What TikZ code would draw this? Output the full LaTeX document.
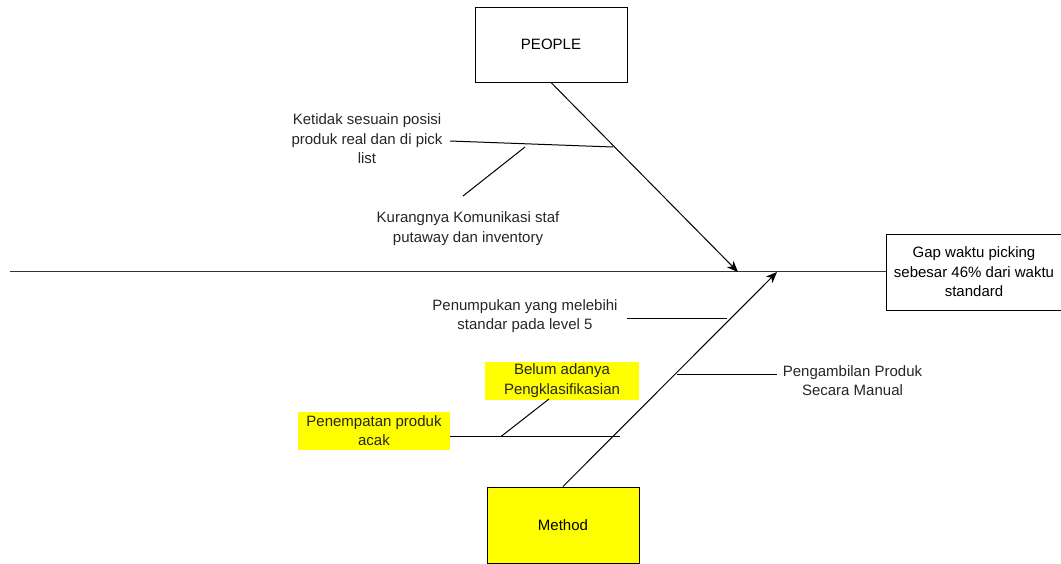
\documentclass[tikz,border=0pt]{standalone}
\usepackage{fontspec}
\setmainfont{Liberation Sans}
\usetikzlibrary{arrows.meta}
\definecolor{hl}{HTML}{FFFF00}
\definecolor{ln}{HTML}{000000}
\tikzset{
  box/.style={draw=ln, line width=1pt, inner sep=0pt, font=\fontsize{15}{19.5}\selectfont},
  lbl/.style={inner sep=0pt, align=center, font=\fontsize{15}{19.5}\selectfont, text=black!85},
  hlbox/.style={fill=hl, inner sep=0pt, align=center, font=\fontsize{15}{19.5}\selectfont, text=black!85},
  bone/.style={draw=ln, line width=1pt},
  arr/.style={draw=ln, line width=1pt, -{Stealth[length=11pt,width=9pt,inset=3pt]}},
}
\begin{document}
\begin{tikzpicture}[x=1pt,y=-1pt]
\useasboundingbox (0,0) rectangle (1061,563);
% boxes
\node[box, minimum width=152pt, minimum height=75pt] (people) at (551,44.5) {PEOPLE};
\node[box, fill=hl, minimum width=152pt, minimum height=76pt] (method) at (563,525) {Method};
\node[box, minimum width=176pt, minimum height=76pt, align=center] (effect) at (974,272) {Gap waktu picking\\sebesar 46\% dari waktu\\standard};
% spine
\coordinate (spineL) at (10,271);
\draw[bone, line width=0.9pt, draw=black!80] (spineL) -- (effect.west |- spineL);
% main bones
\coordinate (peopleTip) at (738,272);
\coordinate (methodTip) at (777,272);
\draw[arr] (people.south) -- (peopleTip);
\draw[arr] (method.north) -- (methodTip);
% People causes
\node[lbl] (c1) at (367,139) {Ketidak sesuain posisi\\produk real dan di pick\\list};
\coordinate (c1s) at (450,141);
\coordinate (c1e) at (613,147);
\draw[bone] (c1s) -- (c1e);
\node[lbl] (c2) at (468,228.5) {Kurangnya Komunikasi staf\\putaway dan inventory};
\coordinate (c2s) at (463,196);
\coordinate (c2e) at (525,147);
\draw[bone] (c2s) -- (c2e);
% Method causes
\node[lbl] (c3) at (525,316) {Penumpukan yang melebihi\\standar pada level 5};
\coordinate (c3s) at (627,318);
\coordinate (c3e) at (727,318);
\draw[bone] (c3s) -- (c3e);
\node[lbl] (c4) at (852.5,380.5) {Pengambilan Produk\\Secara Manual};
\coordinate (c4s) at (677,374);
\coordinate (c4e) at (777,374);
\draw[bone] (c4s) -- (c4e);
\node[hlbox, minimum width=154pt, minimum height=38pt] (c5) at (562,380.5) {Belum adanya\\Pengklasifikasian};
\node[hlbox, minimum width=152pt, minimum height=38pt] (c6) at (374,430.5) {Penempatan produk\\acak};
\coordinate (c6e) at (620,436.5);
\draw[bone] (c6.east |- c6e) -- (c6e);
\coordinate (c5s) at (501,436.5);
\draw[bone] (c5s) -- (549,399);
\end{tikzpicture}
\end{document}
